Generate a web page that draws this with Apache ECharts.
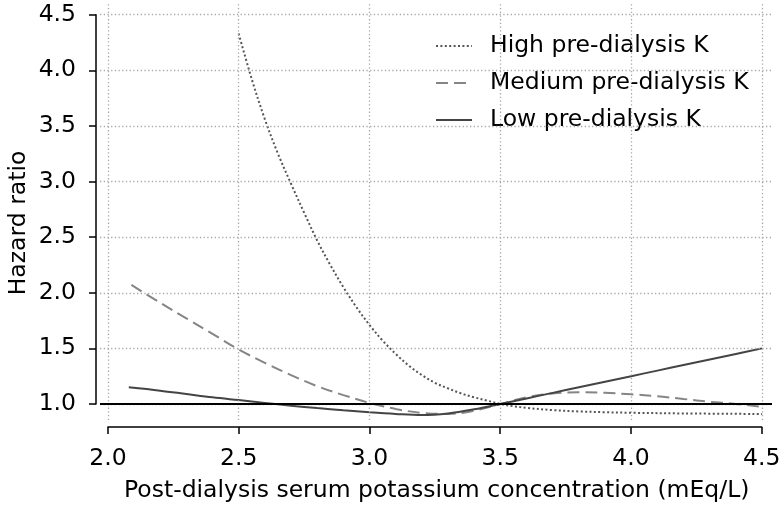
<!DOCTYPE html>
<html>
<head>
<meta charset="utf-8">
<script src="https://cdn.jsdelivr.net/npm/echarts@6/dist/echarts.min.js"></script>
<style>
html,body{margin:0;padding:0;background:#fff;}
#chart{width:783px;height:509px;}
</style>
</head>
<body>
<div id="chart"></div>
<script>
// ---- data ----
const seriesNames = ['High pre-dialysis K', 'Medium pre-dialysis K', 'Low pre-dialysis K'];
const xTicks = [2.0, 2.5, 3.0, 3.5, 4.0, 4.5];
const yTicks = [1.0, 1.5, 2.0, 2.5, 3.0, 3.5, 4.0, 4.5];
const referenceHR = 1.0;

const highX = [2.50, 2.55, 2.60, 2.65, 2.70, 2.75, 2.80, 2.85, 2.90, 2.95, 3.00, 3.05, 3.10, 3.15, 3.20, 3.25, 3.30, 3.35, 3.40, 3.45, 3.50, 3.55, 3.60, 3.70, 3.80, 3.90, 4.00, 4.20, 4.50];
const highY = [4.33, 3.92, 3.56, 3.25, 2.98, 2.72, 2.47, 2.25, 2.05, 1.87, 1.71, 1.57, 1.45, 1.345, 1.26, 1.19, 1.14, 1.095, 1.06, 1.03, 1.00, 0.98, 0.965, 0.945, 0.933, 0.926, 0.921, 0.915, 0.91];

const medX = [2.09, 2.20, 2.30, 2.40, 2.50, 2.60, 2.70, 2.80, 2.90, 3.00, 3.10, 3.20, 3.30, 3.40, 3.50, 3.60, 3.70, 3.80, 3.90, 4.00, 4.10, 4.20, 4.30, 4.40, 4.50];
const medY = [2.07, 1.91, 1.77, 1.63, 1.49, 1.37, 1.26, 1.16, 1.08, 1.01, 0.955, 0.92, 0.91, 0.94, 1.00, 1.06, 1.095, 1.105, 1.10, 1.087, 1.07, 1.045, 1.02, 1.00, 0.975];

const lowX = [2.08, 2.20, 2.30, 2.40, 2.50, 2.60, 2.70, 2.80, 2.90, 3.00, 3.10, 3.20, 3.30, 3.40, 3.50, 3.60, 3.70, 3.80, 3.90, 4.00, 4.10, 4.20, 4.30, 4.40, 4.50];
const lowY = [1.15, 1.12, 1.09, 1.06, 1.035, 1.01, 0.985, 0.963, 0.943, 0.925, 0.91, 0.9, 0.915, 0.952, 1.00, 1.05, 1.10, 1.15, 1.20, 1.25, 1.30, 1.35, 1.40, 1.45, 1.50];

const xTitle = 'Post-dialysis serum potassium concentration (mEq/L)';
const yTitle = 'Hazard ratio';

// ---- build ----
const zip = (xs, ys) => xs.map((x, i) => [x, ys[i]]);
const FONT = 'DejaVu Sans';
const FS = 23.5;
const fmt = v => v.toFixed(1);
const gridStyle = { color: '#a8a8a8', width: 1.3, type: [1.3, 2.4] };

const gridMarks = []
  .concat(xTicks.map(v => ({ xAxis: v, lineStyle: gridStyle })))
  .concat(yTicks.map(v => ({ yAxis: v, lineStyle: gridStyle })));

const chart = echarts.init(document.getElementById('chart'), null, { renderer: 'canvas' });
chart.setOption({
  animation: false,
  backgroundColor: '#fff',
  textStyle: { fontFamily: FONT },
  grid: [
    { left: 100, right: 11, top: 2, bottom: 89, outerBoundsMode: 'none', containLabel: false },
    { left: 108, right: 21.3, top: 426, height: 1, outerBoundsMode: 'none', containLabel: false },
    { left: 96, width: 1, top: 14.7, bottom: 105, outerBoundsMode: 'none', containLabel: false }
  ],
  xAxis: [
    { type: 'value', gridIndex: 0, min: 1.97, max: 4.538, show: false },
    { type: 'value', gridIndex: 1, min: 2, max: 4.5, interval: 0.5, position: 'bottom',
      axisLine: { show: true, lineStyle: { color: '#000', width: 1.5 } },
      axisTick: { show: true, inside: false, length: 7, lineStyle: { color: '#000', width: 1.5 } },
      axisLabel: { show: true, color: '#000', fontSize: FS, fontFamily: FONT, margin: 20, formatter: fmt,
        showMinLabel: true, showMaxLabel: true, hideOverlap: false },
      splitLine: { show: false } },
    { type: 'value', gridIndex: 2, min: 0, max: 1, show: false }
  ],
  yAxis: [
    { type: 'value', gridIndex: 0, min: 0.856, max: 4.614, show: false },
    { type: 'value', gridIndex: 1, min: 0, max: 1, show: false },
    { type: 'value', gridIndex: 2, min: 1, max: 4.5, interval: 0.5, position: 'left',
      axisLine: { show: true, lineStyle: { color: '#000', width: 1.5 } },
      axisTick: { show: true, inside: false, length: 7, lineStyle: { color: '#000', width: 1.5 } },
      axisLabel: { show: true, color: '#000', fontSize: FS, fontFamily: FONT, margin: 20, formatter: fmt,
        showMinLabel: true, showMaxLabel: true },
      splitLine: { show: false } }
  ],
  legend: {
    data: seriesNames,
    orient: 'vertical',
    left: 430,
    top: 29,
    itemWidth: 36,
    itemHeight: 14,
    itemGap: 13,
    itemStyle: { opacity: 0 },
    textStyle: { fontSize: FS, fontFamily: FONT, color: '#000', padding: [0, 0, 0, 13] }
  },
  series: [
    { name: '_grid', type: 'line', xAxisIndex: 0, yAxisIndex: 0, data: [], silent: true, z: 1,
      markLine: { silent: true, symbol: ['none', 'none'], label: { show: false }, animation: false,
        data: gridMarks.concat([{ yAxis: referenceHR, lineStyle: { color: '#000', width: 1.8, type: 'solid' } }]) } },
    { name: seriesNames[0], type: 'line', xAxisIndex: 0, yAxisIndex: 0, data: zip(highX, highY),
      smooth: 0.35, showSymbol: false, symbol: 'none', z: 3,
      lineStyle: { color: '#555', width: 2, type: [2, 2.4] }, itemStyle: { color: '#555' } },
    { name: seriesNames[1], type: 'line', xAxisIndex: 0, yAxisIndex: 0, data: zip(medX, medY),
      smooth: 0.35, showSymbol: false, symbol: 'none', z: 3,
      lineStyle: { color: '#858585', width: 2, type: [12, 6] }, itemStyle: { color: '#858585' } },
    { name: seriesNames[2], type: 'line', xAxisIndex: 0, yAxisIndex: 0, data: zip(lowX, lowY),
      smooth: 0.35, showSymbol: false, symbol: 'none', z: 3,
      lineStyle: { color: '#444', width: 2, type: 'solid' }, itemStyle: { color: '#444' } }
  ],
  graphic: [
    { type: 'text', x: 124, y: 479, style: { text: xTitle, font: FS + 'px "DejaVu Sans"', fill: '#000', verticalAlign: 'top' } },
    { type: 'text', x: 7, y: 223, rotation: Math.PI / 2,
      style: { text: yTitle, font: FS + 'px "DejaVu Sans"', fill: '#000', align: 'center', verticalAlign: 'top' } }
  ]
});
</script>
</body>
</html>
